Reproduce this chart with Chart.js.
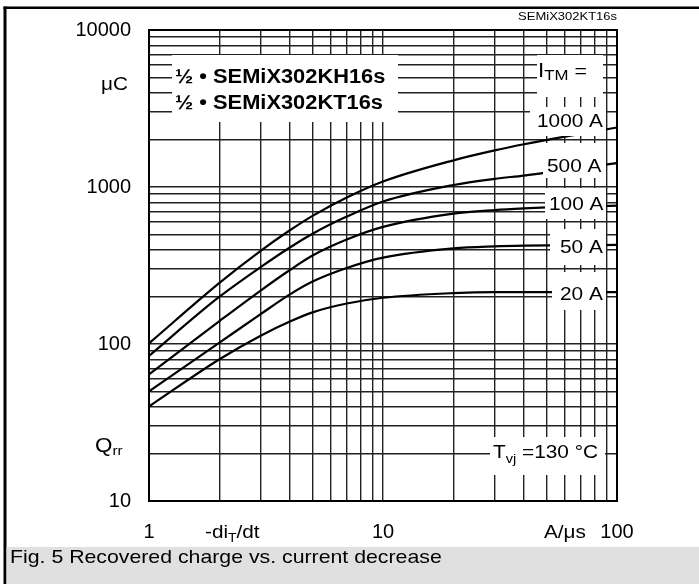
<!DOCTYPE html>
<html><head><meta charset="utf-8">
<script src="https://cdn.jsdelivr.net/npm/chart.js@4"></script>
<style>html,body{margin:0;padding:0;background:#fff;}canvas{display:block}</style>
</head><body>
<canvas id="c" width="699" height="584"></canvas>
<script>
// ---- data ----
const diRate = [1, 2, 3, 4, 5, 7, 10, 20, 30, 40, 60, 100];          // -diT/dt, A/us
const qrr1000 = [101, 245, 392, 530, 655, 857, 1084, 1479, 1710, 1871, 2094, 2393];
const qrr500  = [84, 200, 309, 412, 504, 648, 809, 1030, 1127, 1183, 1282, 1419];
const qrr100  = [64, 140, 219, 296, 366, 463, 557, 676, 713, 731, 750, 762];
const qrr50   = [50, 102, 155, 207, 250, 305, 355, 407, 419, 423, 425, 428];
const qrr20   = [40, 80, 113, 139, 159, 181, 197, 211, 214, 214, 214, 214];
const seriesNames = ['1000 A', '500 A', '100 A', '50 A', '20 A'];
const xTickLabels = [1, 10, 100];
const yTickLabels = [10, 100, 1000, 10000];
const xGrid = [1,2,3,4,5,6,7,8,9,10,20,30,40,50,60,70,80,90,100];
const yGrid = [10,20,30,40,50,60,70,80,90,100,200,300,400,500,600,700,800,900,1000,2000,3000,4000,5000,6000,7000,8000,9000,10000];

const SX = 1.12;
const FONT = '"Liberation Sans", Arial, Helvetica, sans-serif';
function put(ctx, parts, x, y, align) {
  ctx.save();
  const fonts = parts.map(p => (p[3] ? 'bold ' : '') + p[1] + 'px ' + FONT);
  const widths = parts.map((p, i) => { ctx.font = fonts[i]; return ctx.measureText(p[0]).width * SX; });
  const total = widths.reduce((a, b) => a + b, 0);
  let cx = align === 'right' ? x - total : (align === 'center' ? x - total / 2 : x);
  ctx.textBaseline = 'alphabetic'; ctx.textAlign = 'left'; ctx.fillStyle = '#000';
  parts.forEach((p, i) => {
    ctx.font = fonts[i];
    ctx.save(); ctx.translate(cx, y + (p[2] || 0)); ctx.scale(SX, 1); ctx.fillText(p[0], 0, 0); ctx.restore();
    cx += widths[i];
  });
  ctx.restore();
}
const boxes = [[172,55,398,122],[537,55,603,97],[530,107,606,136],[543,143,606,178],[545,188,606,219],[550,229,606,265],[552,272,606,310],[490,437,605,475]];

const decor = {
  id: 'decor',
  afterDatasetsDraw(chart) {
    const ctx = chart.ctx, a = chart.chartArea;
    ctx.save();
    ctx.fillStyle = '#fff';
    boxes.forEach(b => ctx.fillRect(b[0], b[1], b[2] - b[0], b[3] - b[1]));
    ctx.strokeStyle = '#000'; ctx.lineWidth = 2;
    ctx.strokeRect(a.left, a.top, a.right - a.left, a.bottom - a.top);
    ctx.fillStyle = '#000';
    ctx.fillRect(3.5, 6.5, 3, 584 - 6.5);
    ctx.fillRect(3.5, 6.5, 699 - 3.5, 2.5);
    ctx.fillStyle = '#e0e0e0';
    ctx.fillRect(6.5, 547, 699 - 6.5, 37);
    ctx.restore();

    put(ctx, [['SEMiX302KT16s', 11.6]], 617, 20, 'right');
    put(ctx, [['μC', 18.5]], 128, 90, 'right');
    put(ctx, [['Q', 20], ['rr', 13.5, 3]], 95, 452);
    put(ctx, [['-di', 18.5], ['T', 12.5, 4], ['/dt', 18.5]], 205, 538);
    put(ctx, [['A/μs', 18.5]], 544, 538);
    put(ctx, [['½ • SEMiX302KH16s', 19.5, 0, true]], 175, 83);
    put(ctx, [['½ • SEMiX302KT16s', 19.5, 0, true]], 175, 109);
    put(ctx, [['I', 20], ['TM', 15, 3], [' =', 19]], 538, 77);
    const lab = [[537,127],[547,171.5],[549,210],[560,253],[560,300]];
    seriesNames.forEach((n, i) => put(ctx, [[n, 18.6]], lab[i][0], lab[i][1]));
    put(ctx, [['T', 18.6], ['vj', 13, 5], [' =130 °C', 18.6]], 493, 458);
    put(ctx, [['Fig. 5 Recovered charge vs. current decrease', 19]], 10, 563);
  }
};

const mk = (vals) => diRate.map((x, i) => ({ x: x, y: vals[i] }));
const allVals = [qrr1000, qrr500, qrr100, qrr50, qrr20];

new Chart(document.getElementById('c'), {
  type: 'line',
  data: {
    datasets: allVals.map((v, i) => ({
      label: seriesNames[i], data: mk(v), borderColor: '#000', borderWidth: 2.2,
      pointRadius: 0, fill: false, cubicInterpolationMode: 'monotone'
    }))
  },
  options: {
    responsive: false, animation: false, devicePixelRatio: 1,
    layout: { padding: { left: 0, top: 28, right: 82, bottom: 0 } },
    plugins: { legend: { display: false }, tooltip: { enabled: false } },
    scales: {
      x: {
        type: 'logarithmic', min: 1, max: 100,
        afterBuildTicks: s => { s.ticks = xGrid.map(v => ({ value: v })); },
        afterFit: s => { s.height = 83; },
        grid: { color: '#222', lineWidth: 1.4, drawTicks: false },
        border: { display: true, color: '#000', width: 2 },
        ticks: { autoSkip: false, maxRotation: 0, padding: 19, color: '#000',
          font: { size: 20, family: FONT },
          callback: v => xTickLabels.includes(v) ? String(v) : '' }
      },
      y: {
        type: 'logarithmic', min: 10, max: 10000,
        afterBuildTicks: s => { s.ticks = yGrid.map(v => ({ value: v })); },
        afterFit: s => { s.width = 149; },
        grid: { color: '#222', lineWidth: 1.4, drawTicks: false },
        border: { display: true, color: '#000', width: 2 },
        ticks: { autoSkip: false, padding: 18, color: '#000',
          font: { size: 20, family: FONT },
          callback: v => yTickLabels.includes(v) ? String(v) : '' }
      }
    }
  },
  plugins: [decor]
});
</script>
</body></html>
